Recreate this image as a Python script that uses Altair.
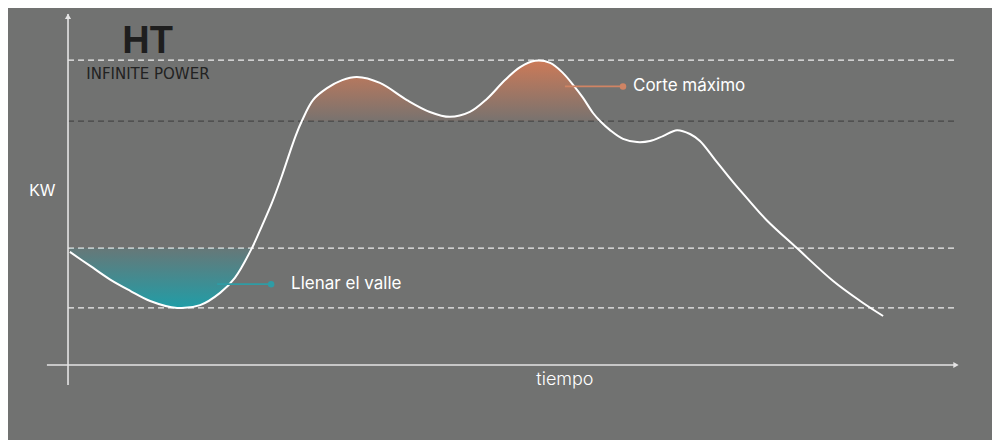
import altair as alt
import pandas as pd

# ---- data ----
# tiempo (h) and power (kW) along the load curve
tiempo = [0.05, 0.6, 1.14, 1.68, 2.22, 2.95, 3.57, 4.11, 4.51, 4.97, 5.24, 5.51, 5.78,
          6.0, 6.16, 6.32, 6.62, 7.0, 7.41, 7.81, 8.43, 9.16, 9.78, 10.32, 10.86,
          11.32, 11.81, 12.22, 12.62, 13.03, 13.38, 13.70, 13.92, 14.19, 14.38, 14.65,
          15.0, 15.38, 15.73, 16.08, 16.46, 16.81, 17.08, 17.49, 17.97, 18.43, 18.89,
          19.7, 20.68, 21.41, 22.03]
kw = [32.3, 28.3, 24.4, 21.2, 18.3, 16.3, 17.1, 20.6, 24.9, 33.4, 39.7, 46.3, 54.0,
      60.9, 65.7, 69.7, 75.7, 79.1, 81.4, 82.3, 80.6, 75.7, 72.3, 70.9, 72.3,
      76.0, 81.4, 85.1, 86.9, 86.3, 83.4, 79.4, 76.3, 72.0, 69.7, 67.1,
      64.6, 63.7, 64.0, 65.4, 67.1, 66.0, 64.0, 58.6, 52.3, 46.7, 41.3,
      33.4, 24.0, 18.3, 14.0]

# reference levels (dashed lines)
levels = [87.1, 69.7, 33.4, 16.3]
level_colors = ["#efefef", "#474747", "#efefef", "#efefef"]

peak_level = 69.7     # "Corte máximo" threshold
valley_level = 33.4   # "Llenar el valle" threshold

labels_text = ["Corte máximo", "Llenar el valle"]
label_colors = ["#d08464", "#2f9ca5"]
label_line_start = [13.43, 4.03]
label_dot_t = [15.0, 5.49]
label_text_t = [15.27, 6.03]
label_kw = [79.6, 23.1]

BG = "#717271"
X_DOM = [-1.622, 24.973]
Y_DOM = [-21.43, 102.0]
INTERP = "catmull-rom"

xs = alt.Scale(domain=X_DOM, nice=False, zero=False)
ys = alt.Scale(domain=Y_DOM, nice=False, zero=False)

curve = pd.DataFrame({"t": tiempo, "kw": kw})
peak_df = curve[(curve.t >= 6.32) & (curve.t <= 14.38)].assign(lv=peak_level)
valley_df = curve[curve.t <= 4.97].assign(lv=valley_level)

lev_df = pd.DataFrame({"y": levels, "c": level_colors, "x0": 0.0, "x1": 24.0})

X = lambda f: alt.X(f, type="quantitative", scale=xs, axis=None)
Y = lambda f: alt.Y(f, type="quantitative", scale=ys, axis=None)

dashes = alt.Chart(lev_df).mark_rule(strokeDash=[6, 4], strokeWidth=1.3).encode(
    x=X("x0"), x2="x1", y=Y("y"), color=alt.Color("c:N", scale=None)
)

orange_grad = alt.Gradient(
    gradient="linear", x1=0, x2=0, y1=0, y2=1,
    stops=[alt.GradientStop(color="rgba(204,122,88,1)", offset=0),
           alt.GradientStop(color="rgba(204,122,88,0.08)", offset=1)],
)
teal_grad = alt.Gradient(
    gradient="linear", x1=0, x2=0, y1=0, y2=1,
    stops=[alt.GradientStop(color="rgba(28,160,170,0.12)", offset=0),
           alt.GradientStop(color="rgba(28,160,170,0.95)", offset=1)],
)

peak_area = alt.Chart(peak_df).mark_area(interpolate=INTERP, color=orange_grad).encode(
    x=X("t"), y=Y("kw"), y2="lv"
)
valley_area = alt.Chart(valley_df).mark_area(interpolate=INTERP, color=teal_grad).encode(
    x=X("t"), y=Y("lv"), y2="kw"
)

line = alt.Chart(curve).mark_line(interpolate=INTERP, color="#ffffff", strokeWidth=2).encode(
    x=X("t"), y=Y("kw")
)

# axes drawn as rules with arrow heads
ax_df = pd.DataFrame({"x0": [0.0, -0.57], "x1": [0.0, 24.03], "y0": [-5.7, 0.0], "y1": [100.3, 0.0]})
axes = alt.Chart(ax_df).mark_rule(color="#e4e4e4", strokeWidth=1.6).encode(
    x=X("x0"), x2="x1", y=Y("y0"), y2="y1"
)
arr_df = pd.DataFrame({"x": [0.0, 24.0], "y": [99.6, 0.0], "s": ["triangle-up", "triangle-right"]})
arrows = alt.Chart(arr_df).mark_point(filled=True, size=38, color="#e4e4e4", opacity=1).encode(
    x=X("x"), y=Y("y"), shape=alt.Shape("s:N", scale=None)
)

ann_df = pd.DataFrame({"txt": labels_text, "c": label_colors, "x0": label_line_start,
                       "xd": label_dot_t, "xt": label_text_t, "y": label_kw})
ann_lines = alt.Chart(ann_df).mark_rule(strokeWidth=1.6).encode(
    x=X("x0"), x2="xd", y=Y("y"), color=alt.Color("c:N", scale=None)
)
ann_dots = alt.Chart(ann_df).mark_circle(size=42, opacity=1).encode(
    x=X("xd"), y=Y("y"), color=alt.Color("c:N", scale=None)
)
ann_text = alt.Chart(ann_df).mark_text(
    align="left", baseline="middle", font="Inter", fontSize=17, fontWeight=400, color="#ffffff"
).encode(x=X("xt"), y=Y("y"), text="txt:N")

txt_df = pd.DataFrame({
    "txt": ["KW", "tiempo"], "x": [-0.70, 13.43], "y": [49.7, -4.3]
})
kw_text = alt.Chart(txt_df.iloc[[0]]).mark_text(
    align="center", baseline="middle", font="Liberation Sans", fontSize=16, color="#ffffff"
).encode(x=X("x"), y=Y("y"), text="txt:N")
t_text = alt.Chart(txt_df.iloc[[1]]).mark_text(
    align="center", baseline="middle", font="Inter", fontSize=18, fontWeight=300, color="#ffffff"
).encode(x=X("x"), y=Y("y"), text="txt:N")

logo_df = pd.DataFrame({"txt": ["HT"], "x": [2.15], "y": [92.3]})
logo = alt.Chart(logo_df).mark_text(
    align="center", baseline="middle", font="Liberation Sans", fontSize=38, fontWeight="bold",
    color="#1e1e1e"
).encode(x=X("x"), y=Y("y"), text="txt:N")
sub_df = pd.DataFrame({"txt": ["INFINITE POWER"], "x": [2.16], "y": [83.0]})
sub = alt.Chart(sub_df).mark_text(
    align="center", baseline="middle", font="DejaVu Sans", fontSize=15, color="#222222"
).encode(x=X("x"), y=Y("y"), text="txt:N")

chart = alt.layer(
    dashes, valley_area, peak_area, line, axes, arrows,
    ann_lines, ann_dots, ann_text, kw_text, t_text, logo, sub
).properties(
    width=984, height=432, padding=0, background=BG
).configure_view(stroke=None)

chart.save("out.html", embed_options={"renderer": "svg", "actions": False})
